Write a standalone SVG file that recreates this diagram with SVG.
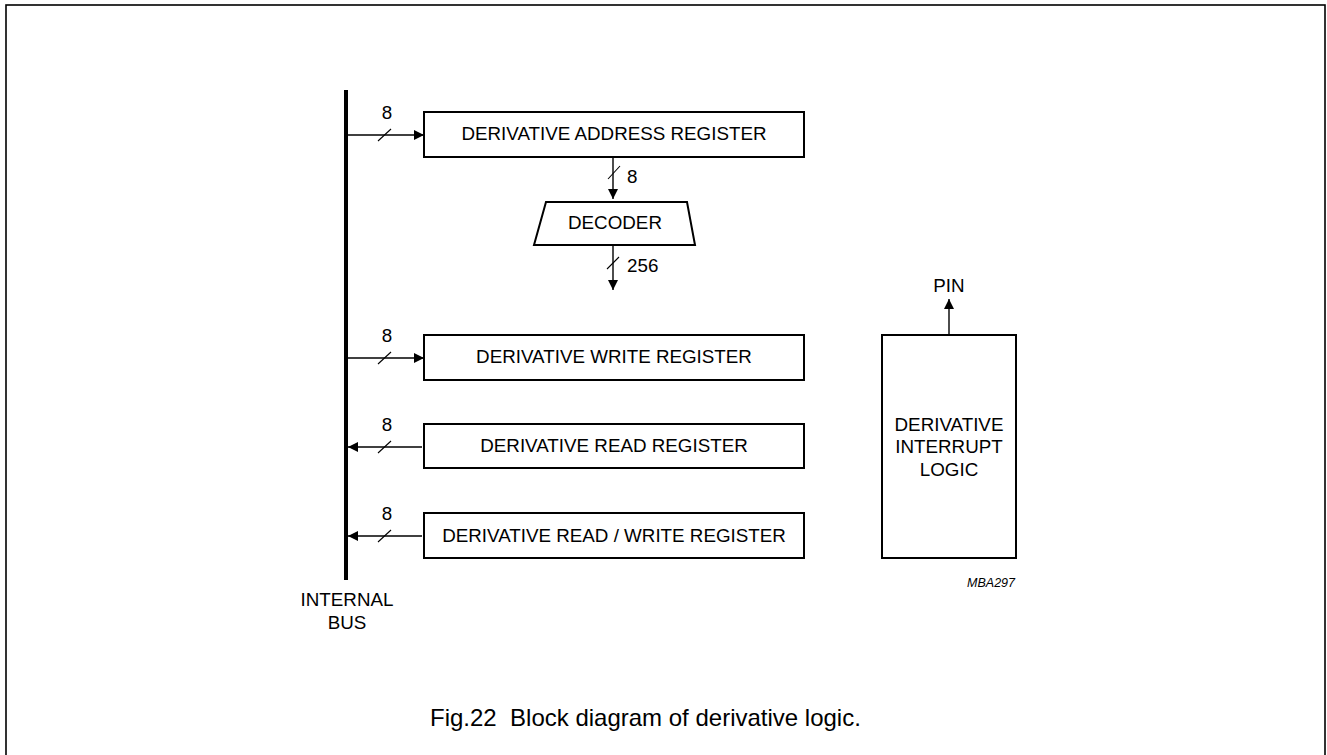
<svg xmlns="http://www.w3.org/2000/svg" width="1327" height="755" viewBox="0 0 1327 755">
<style>
text{font-family:"Liberation Sans",Arial,sans-serif;fill:#000}
.t{font-size:18.8px}
.c{text-anchor:middle}
.box{fill:#fff;stroke:#000;stroke-width:2}
.ln{stroke:#000;stroke-width:1.4;fill:none}
.sl{stroke:#000;stroke-width:1.1;fill:none}
</style>
<defs>
<marker id="ah" viewBox="0 0 10 10" refX="10" refY="5" markerWidth="11" markerHeight="10" markerUnits="userSpaceOnUse" orient="auto">
<path d="M0,0 L10,5 L0,10 z" fill="#000"/>
</marker>
</defs>
<rect x="6" y="5" width="1319" height="770" fill="#fff" stroke="#000" stroke-width="1.6"/>

<g id="bus">
<line x1="346" y1="90" x2="346" y2="580" stroke="#000" stroke-width="4"/>
<text class="t c" x="347" y="606">INTERNAL</text>
<text class="t c" x="347" y="629">BUS</text>
</g>

<g id="connectors">
<line class="ln" x1="348" y1="135" x2="424" y2="135" marker-end="url(#ah)"/>
<line class="sl" x1="378" y1="141" x2="391" y2="129"/>
<text class="t c" x="387" y="119">8</text>

<line class="ln" x1="613" y1="157" x2="613" y2="199" marker-end="url(#ah)"/>
<line class="sl" x1="608" y1="179" x2="620" y2="166"/>
<text class="t" x="627" y="183">8</text>

<line class="ln" x1="613" y1="245" x2="613" y2="290" marker-end="url(#ah)"/>
<line class="sl" x1="607" y1="269" x2="619" y2="257"/>
<text class="t" x="627" y="272">256</text>

<line class="ln" x1="348" y1="358" x2="424" y2="358" marker-end="url(#ah)"/>
<line class="sl" x1="378" y1="364" x2="391" y2="352"/>
<text class="t c" x="387" y="342">8</text>

<line class="ln" x1="422" y1="447" x2="348" y2="447" marker-end="url(#ah)"/>
<line class="sl" x1="378" y1="453" x2="391" y2="441"/>
<text class="t c" x="387" y="431">8</text>

<line class="ln" x1="422" y1="536" x2="348" y2="536" marker-end="url(#ah)"/>
<line class="sl" x1="378" y1="542" x2="391" y2="530"/>
<text class="t c" x="387" y="520">8</text>

<line class="ln" x1="949" y1="335" x2="949" y2="299" marker-end="url(#ah)"/>
<text class="t c" x="949" y="292">PIN</text>
</g>

<g id="address-register">
<rect class="box" x="424" y="112" width="380" height="45"/>
<text class="t c" x="614" y="140">DERIVATIVE ADDRESS REGISTER</text>
</g>

<g id="decoder">
<path class="box" d="M546,202 L687,202 L695,245 L534,245 Z"/>
<text class="t c" x="615" y="229">DECODER</text>
</g>

<g id="write-register">
<rect class="box" x="424" y="335" width="380" height="45"/>
<text class="t c" x="614" y="363">DERIVATIVE WRITE REGISTER</text>
</g>

<g id="read-register">
<rect class="box" x="424" y="424" width="380" height="44"/>
<text class="t c" x="614" y="452">DERIVATIVE READ REGISTER</text>
</g>

<g id="read-write-register">
<rect class="box" x="424" y="513" width="380" height="45"/>
<text class="t c" x="614" y="542">DERIVATIVE READ / WRITE REGISTER</text>
</g>

<g id="interrupt-logic">
<rect class="box" x="882" y="335" width="134" height="223"/>
<text class="t c" x="949" y="431">DERIVATIVE</text>
<text class="t c" x="949" y="453">INTERRUPT</text>
<text class="t c" x="949" y="476">LOGIC</text>
</g>

<text x="1015" y="587" font-size="12.5" font-style="italic" text-anchor="end">MBA297</text>

<text x="430" y="726" font-size="24" style="white-space:pre" xml:space="preserve">Fig.22  Block diagram of derivative logic.</text>
</svg>
